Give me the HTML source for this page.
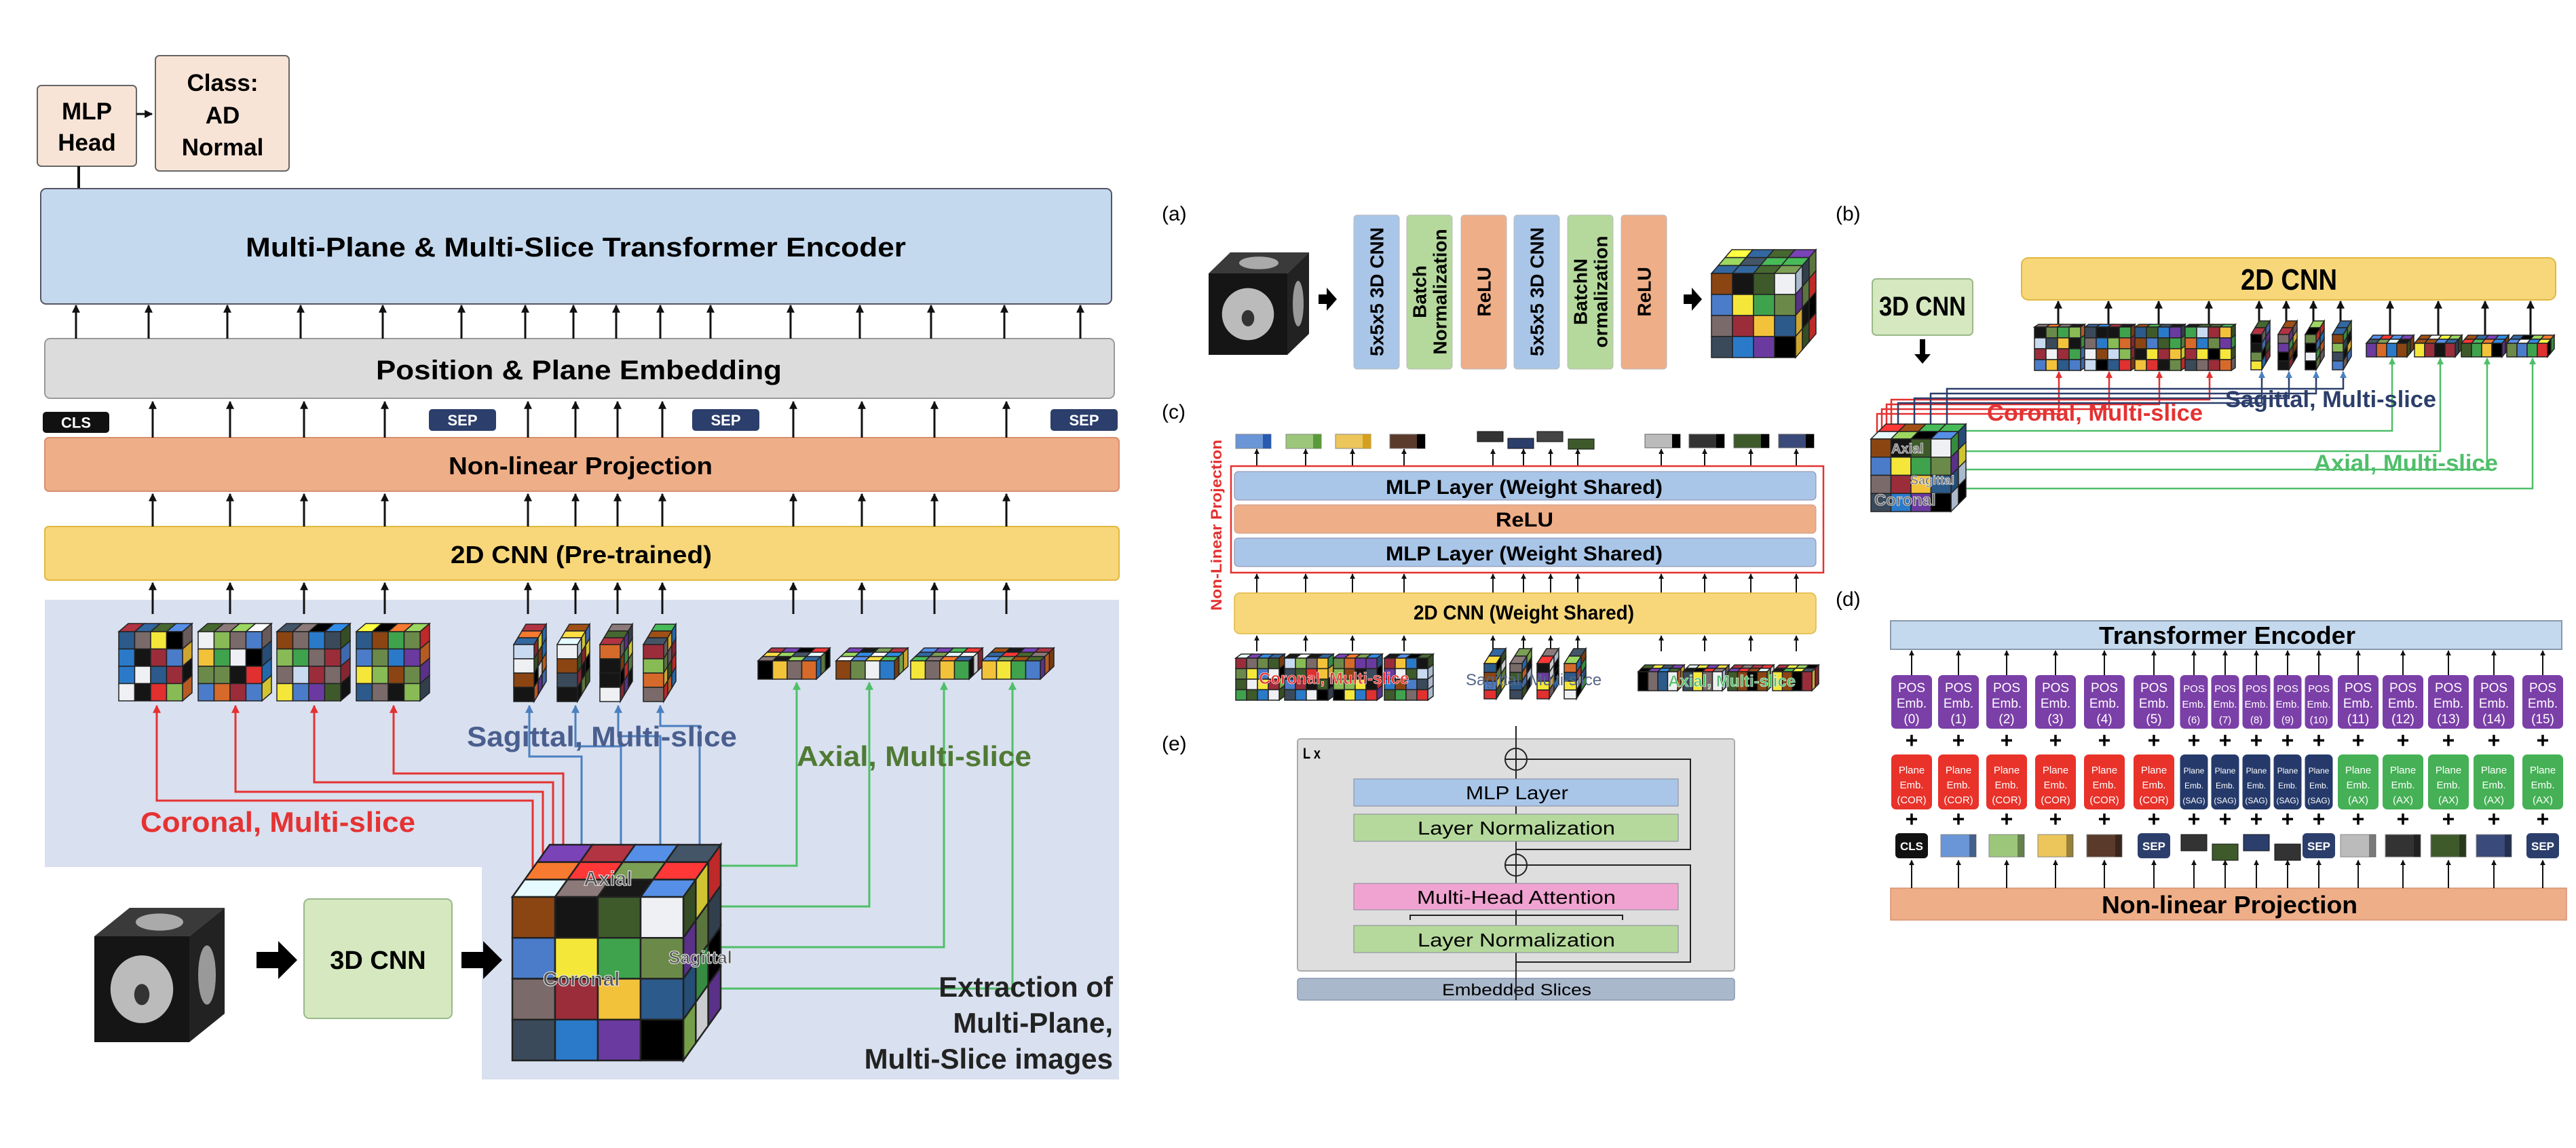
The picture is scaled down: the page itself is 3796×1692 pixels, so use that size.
<!DOCTYPE html>
<html><head><meta charset="utf-8"><style>
html,body{margin:0;padding:0;background:#fff;}
svg{display:block;}
text{font-family:"Liberation Sans",sans-serif;font-weight:bold;}
</style></head><body>
<svg id="s" xmlns="http://www.w3.org/2000/svg" width="3796" height="1692" viewBox="0 0 3796 1692">
<defs>
<marker id="ah" viewBox="0 0 10 10" refX="9" refY="5" markerWidth="4" markerHeight="4" orient="auto"><path d="M0,0L10,5L0,10z" fill="#111"/></marker>
<marker id="ar" viewBox="0 0 10 10" refX="9" refY="5" markerWidth="4" markerHeight="4" orient="auto"><path d="M0,0L10,5L0,10z" fill="#e53030"/></marker>
<marker id="ab" viewBox="0 0 10 10" refX="9" refY="5" markerWidth="4" markerHeight="4" orient="auto"><path d="M0,0L10,5L0,10z" fill="#4a80c0"/></marker>
<marker id="ag" viewBox="0 0 10 10" refX="9" refY="5" markerWidth="4" markerHeight="4" orient="auto"><path d="M0,0L10,5L0,10z" fill="#4fbf6a"/></marker>
</defs>

<!-- ============ LEFT PANEL ============ -->
<rect x="66" y="884" width="1583" height="394" fill="#d9e0ef"/>
<rect x="710" y="1270" width="939" height="321" fill="#d9e0ef"/>

<rect x="55" y="126" width="146" height="119" rx="6" fill="#f8e4d6" stroke="#666" stroke-width="2"/>
<text x="128" y="176" font-size="35" text-anchor="middle">MLP</text>
<text x="128" y="222" font-size="35" text-anchor="middle">Head</text>
<line x1="201" y1="168" x2="224" y2="168" stroke="#111" stroke-width="3" marker-end="url(#ah)"/>
<rect x="229" y="82" width="197" height="170" rx="6" fill="#f8e4d6" stroke="#666" stroke-width="2"/>
<text x="328" y="134" font-size="35" text-anchor="middle">Class:</text>
<text x="328" y="182" font-size="35" text-anchor="middle">AD</text>
<text x="328" y="229" font-size="35" text-anchor="middle">Normal</text>
<line x1="116" y1="245" x2="116" y2="278" stroke="#111" stroke-width="4"/>

<rect x="60" y="278" width="1578" height="170" rx="8" fill="#c5d9ee" stroke="#556" stroke-width="2"/>
<text x="362" y="378" font-size="40" textLength="973" lengthAdjust="spacingAndGlyphs">Multi-Plane &amp; Multi-Slice Transformer Encoder</text>
<rect x="66" y="499" width="1576" height="88" rx="8" fill="#dcdcdc" stroke="#999" stroke-width="2"/>
<text x="554" y="559" font-size="40" textLength="598" lengthAdjust="spacingAndGlyphs">Position &amp; Plane Embedding</text>
<rect x="66" y="645" width="1583" height="79" rx="6" fill="#eeae88" stroke="#d89070" stroke-width="2"/>
<text x="661" y="699" font-size="36" textLength="389" lengthAdjust="spacingAndGlyphs">Non-linear Projection</text>
<rect x="66" y="776" width="1583" height="79" rx="6" fill="#f7d77a" stroke="#e0b840" stroke-width="2"/>
<text x="664" y="830" font-size="36" textLength="385" lengthAdjust="spacingAndGlyphs">2D CNN (Pre-trained)</text>

<g id="lefttok"></g>
<text x="207" y="1226" font-size="42" fill="#e53232" textLength="405" lengthAdjust="spacingAndGlyphs">Coronal, Multi-slice</text>

<g id="leftlines"></g>
<text x="688" y="1100" font-size="42" fill="#4a5f8f" textLength="398" lengthAdjust="spacingAndGlyphs">Sagittal, Multi-slice</text>
<text x="1174" y="1129" font-size="42" fill="#4f7a34" textLength="346" lengthAdjust="spacingAndGlyphs">Axial, Multi-slice</text>

<g id="bigcube"></g>
<text x="1640" y="1469" font-size="42" text-anchor="end" fill="#222">Extraction of</text>
<text x="1640" y="1522" font-size="42" text-anchor="end" fill="#222">Multi-Plane,</text>
<text x="1640" y="1575" font-size="42" text-anchor="end" fill="#222">Multi-Slice images</text>

<g id="brain1"></g>
<path d="M378,1403 h32 v-16 l28,28 l-28,28 v-16 h-32z" fill="#000"/>
<rect x="448" y="1325" width="218" height="176" rx="8" fill="#d5e8c0" stroke="#9ab888" stroke-width="2"/>
<text x="557" y="1428" font-size="38" text-anchor="middle">3D CNN</text>
<path d="M680,1403 h32 v-16 l28,28 l-28,28 v-16 h-32z" fill="#000"/>

<!-- ============ (a) ============ -->
<text x="1712" y="325" font-size="30" font-weight="normal" style="font-weight:normal">(a)</text>
<g id="brain2"></g>
<path d="M1943,434 h12 v-10 l15,17 l-15,17 v-10 h-12z" fill="#000"/>
<g id="abars"></g>
<path d="M2481,434 h12 v-10 l15,17 l-15,17 v-10 h-12z" fill="#000"/>
<g id="acube"></g>

<!-- ============ (b) ============ -->
<text x="2705" y="325" font-size="30" style="font-weight:normal">(b)</text>
<rect x="2759" y="411" width="148" height="83" rx="6" fill="#d5e8c0" stroke="#9ab888" stroke-width="2"/>
<text x="2833" y="465" font-size="40" text-anchor="middle" textLength="128" lengthAdjust="spacingAndGlyphs">3D CNN</text>
<rect x="2979" y="380" width="787" height="62" rx="10" fill="#f7d77a" stroke="#e0b840" stroke-width="2"/>
<text x="3302" y="427" font-size="44" textLength="142" lengthAdjust="spacingAndGlyphs">2D CNN</text>
<path d="M2829,522 v-22 h8 v22 h8 l-12,14 l-12,-14z" fill="#000"/>
<g id="bgrp"></g>
<text x="2928" y="620" font-size="34" fill="#e53232" textLength="318" lengthAdjust="spacingAndGlyphs">Coronal, Multi-slice</text>
<text x="3279" y="600" font-size="34" fill="#2c3e6b" textLength="311" lengthAdjust="spacingAndGlyphs">Sagittal, Multi-slice</text>
<text x="3410" y="694" font-size="34" fill="#4fbf6a" textLength="271" lengthAdjust="spacingAndGlyphs">Axial, Multi-slice</text>

<!-- ============ (c) ============ -->
<text x="1712" y="617" font-size="30" style="font-weight:normal">(c)</text>
<g id="cgrp"></g>
<rect x="1814" y="687" width="873" height="157" fill="none" stroke="#e53030" stroke-width="2.5"/>
<rect x="1819" y="695" width="857" height="42" rx="6" fill="#a9c6e8" stroke="#88a" stroke-width="1"/>
<text x="2042" y="728" font-size="30" textLength="408" lengthAdjust="spacingAndGlyphs">MLP Layer (Weight Shared)</text>
<rect x="1819" y="744" width="857" height="42" rx="6" fill="#eeae88" stroke="#c98" stroke-width="1"/>
<text x="2204" y="776" font-size="30" textLength="85" lengthAdjust="spacingAndGlyphs">ReLU</text>
<rect x="1819" y="793" width="857" height="42" rx="6" fill="#a9c6e8" stroke="#88a" stroke-width="1"/>
<text x="2042" y="826" font-size="30" textLength="408" lengthAdjust="spacingAndGlyphs">MLP Layer (Weight Shared)</text>
<text transform="translate(1800,900) rotate(-90)" font-size="22" fill="#e53030" textLength="252" lengthAdjust="spacingAndGlyphs">Non-Linear Projection</text>
<rect x="1819" y="874" width="857" height="60" rx="8" fill="#f7d77a" stroke="#e0b840" stroke-width="1.5"/>
<text x="2083" y="913" font-size="30" textLength="325" lengthAdjust="spacingAndGlyphs">2D CNN (Weight Shared)</text>

<!-- ============ (e) ============ -->
<text x="1712" y="1106" font-size="30" style="font-weight:normal">(e)</text>
<rect x="1912" y="1089" width="644" height="342" rx="4" fill="#dedede" stroke="#aaa" stroke-width="2"/>
<text x="1920" y="1118" font-size="22" textLength="26" lengthAdjust="spacingAndGlyphs">L x</text>
<rect x="1912" y="1442" width="644" height="32" rx="4" fill="#aab8cc" stroke="#8898b0" stroke-width="1.5"/>
<text x="2125" y="1467" font-size="24" textLength="220" lengthAdjust="spacingAndGlyphs" style="font-weight:normal">Embedded Slices</text>
<g stroke="#222" stroke-width="2" fill="none">
<line x1="2234" y1="1474" x2="2234" y2="1404"/>
<line x1="2234" y1="1364" x2="2234" y2="1341"/>
<line x1="2234" y1="1302" x2="2234" y2="1291"/>
<line x1="2234" y1="1259" x2="2234" y2="1240"/>
<line x1="2234" y1="1200" x2="2234" y2="1188"/>
<line x1="2234" y1="1148" x2="2234" y2="1135"/>
<line x1="2234" y1="1103" x2="2234" y2="1070"/>
<circle cx="2234" cy="1119" r="16"/><line x1="2218" y1="1119" x2="2250" y2="1119"/><line x1="2234" y1="1103" x2="2234" y2="1135"/>
<circle cx="2234" cy="1275" r="16"/><line x1="2218" y1="1275" x2="2250" y2="1275"/><line x1="2234" y1="1259" x2="2234" y2="1291"/>
<polyline points="2234,1252 2491,1252 2491,1119 2250,1119"/>
<polyline points="2234,1418 2491,1418 2491,1275 2250,1275"/>
<polyline points="2078,1356 2078,1349 2391,1349 2391,1356"/>
</g>
<rect x="1995" y="1148" width="478" height="40" fill="#a9c6e8" stroke="#889" stroke-width="1"/>
<text x="2160" y="1178" font-size="28" textLength="151" lengthAdjust="spacingAndGlyphs" style="font-weight:normal">MLP Layer</text>
<rect x="1995" y="1200" width="478" height="40" fill="#b5d99c" stroke="#889" stroke-width="1"/>
<text x="2089" y="1230" font-size="28" textLength="291" lengthAdjust="spacingAndGlyphs" style="font-weight:normal">Layer Normalization</text>
<rect x="1995" y="1302" width="478" height="39" fill="#f0a3d0" stroke="#889" stroke-width="1"/>
<text x="2088" y="1332" font-size="28" textLength="293" lengthAdjust="spacingAndGlyphs" style="font-weight:normal">Multi-Head Attention</text>
<rect x="1995" y="1364" width="478" height="40" fill="#b5d99c" stroke="#889" stroke-width="1"/>
<text x="2089" y="1395" font-size="28" textLength="291" lengthAdjust="spacingAndGlyphs" style="font-weight:normal">Layer Normalization</text>

<!-- ============ (d) ============ -->
<text x="2705" y="893" font-size="30" style="font-weight:normal">(d)</text>
<rect x="2786" y="915" width="989" height="42" fill="#c5d9ee" stroke="#8899aa" stroke-width="2"/>
<text x="3093" y="949" font-size="36" textLength="378" lengthAdjust="spacingAndGlyphs">Transformer Encoder</text>
<rect x="2786" y="1309" width="996" height="47" fill="#eeae88" stroke="#d89070" stroke-width="1.5"/>
<text x="3097" y="1346" font-size="36" textLength="377" lengthAdjust="spacingAndGlyphs">Non-linear Projection</text>
<g id="dgrp"></g>
</svg>
<script>
var NS="http://www.w3.org/2000/svg";
function el(p,t,a,txt){var e=document.createElementNS(NS,t);for(var k in a)e.setAttribute(k,a[k]);if(txt!==undefined)e.textContent=txt;p.appendChild(e);return e;}
var P=['#8b4513','#151515','#3e5a2a','#eef0f4','#4a7cc9','#f5e73a','#3fa34d','#6b8a4a','#7a6a6a','#9b2d3a','#f2c23a','#2c5a8a','#3a4a5a','#2a7ac9','#6a3aa0','#000000','#c8daf0','#d66a2a','#e03030','#88bb55'];
var seed=7;function rnd(){seed=(seed*9301+49297)%233280;return seed/233280;}
function rc(){return P[Math.floor(rnd()*P.length)];}
function shade(c,f){var n=parseInt(c.slice(1),16);var r=(n>>16)&255,g=(n>>8)&255,b=n&255;r=Math.min(255,Math.round(r*f));g=Math.min(255,Math.round(g*f));b=Math.min(255,Math.round(b*f));return'rgb('+r+','+g+','+b+')';}
// cube: front face top-left x,y size w,h; depth dx,dy; cols,rows; depth cells dc
function cube(g,x,y,w,h,dx,dy,cols,rows,dc,colors,sw){
 sw=sw||1.5;var cw=w/cols,ch=h/rows,i,j,k=0;
 // top face
 for(j=dc-1;j>=0;j--)for(i=0;i<cols;i++){
  var ox=dx*j/dc,oy=dy*j/dc,ox2=dx*(j+1)/dc,oy2=dy*(j+1)/dc;
  el(g,'polygon',{points:[x+i*cw+ox,y-oy, x+(i+1)*cw+ox,y-oy, x+(i+1)*cw+ox2,y-oy2, x+i*cw+ox2,y-oy2].join(','),fill:shade(rc(),1.15),stroke:'#222','stroke-width':sw});}
 // right face
 for(j=0;j<dc;j++)for(i=0;i<rows;i++){
  var ox=dx*j/dc,oy=dy*j/dc,ox2=dx*(j+1)/dc,oy2=dy*(j+1)/dc;
  el(g,'polygon',{points:[x+w+ox,y+i*ch-oy, x+w+ox2,y+i*ch-oy2, x+w+ox2,y+(i+1)*ch-oy2, x+w+ox,y+(i+1)*ch-oy].join(','),fill:shade(rc(),0.85),stroke:'#222','stroke-width':sw});}
 for(j=0;j<rows;j++)for(i=0;i<cols;i++){
  el(g,'rect',{x:x+i*cw,y:y+j*ch,width:cw,height:ch,fill:colors?colors[k++]:rc(),stroke:'#222','stroke-width':sw});}
}
function arrow(g,x,y1,y2,col,mk,w){el(g,'line',{x1:x,y1:y1,x2:x,y2:y2,stroke:col||'#111','stroke-width':w||3,'marker-end':'url(#'+(mk||'ah')+')'});}
function pl(g,pts,col,w){el(g,'polyline',{points:pts.join(' '),fill:'none',stroke:col,'stroke-width':w||3});}

// LEFT arrows
var L=document.getElementById('lefttok');
[112,219,335,443,564,680,774,845,908,973,1047,1165,1267,1372,1480,1592].forEach(function(x){arrow(L,x,499,450);});
[225,339,448,567,778,848,910,976,1169,1270,1377,1483].forEach(function(x){arrow(L,x,645,592);arrow(L,x,776,728);arrow(L,x,905,859);});
function tok(g,x,y,w,h,fill,t,fs){el(g,'rect',{x:x,y:y,width:w,height:h,rx:5,fill:fill});el(g,'text',{x:x+w/2,y:y+h/2+fs*0.36,'font-size':fs,'text-anchor':'middle',fill:'#fff'},t);}
tok(L,63,607,98,31,'#111','CLS',22);
tok(L,632,603,99,32,'#2c3e6b','SEP',22);tok(L,1020,603,99,32,'#2c3e6b','SEP',22);tok(L,1548,603,99,32,'#2c3e6b','SEP',22);
// coronal cubes
[175,292,408,525].forEach(function(x){cube(L,x,931,94,102,14,12,4,4,1);});
// sagittal slabs
[757,821,884,948].forEach(function(x){cube(L,x,950,30,84,18,30,1,4,3);});
// axial slabs
[1117,1232,1342,1447].forEach(function(x){cube(L,x,974,86,27,20,19,4,1,3);});

var LL=document.getElementById('leftlines');
// red
[[231,1180,785],[347,1167,800],[463,1153,815],[580,1140,830]].forEach(function(a){pl(LL,[a[0]+','+1045,a[0]+','+a[1],a[2]+','+a[1],a[2]+','+1290],'#e53232',3);arrow(LL,a[0],1060,1040,'#e53232','ar',3);});
// blue
[[780,1115,857],[848,1100,915],[911,1085,973],[973,1070,1031]].forEach(function(a){pl(LL,[a[0]+','+1045,a[0]+','+a[1],a[2]+','+a[1],a[2]+','+1250],'#4a80c0',3);arrow(LL,a[0],1060,1040,'#4a80c0','ab',3);});
// green
[[1276,1174],[1336,1281],[1396,1391],[1457,1492]].forEach(function(a){pl(LL,['1040,'+a[0],a[1]+','+a[0],a[1]+',1020'],'#4fbf6a',3);arrow(LL,a[1],1025,1006,'#4fbf6a','ag',3);});

// big cube
var B=document.getElementById('bigcube');
cube(B,755,1322,252,241,55,77,4,4,3,['#8b4513','#151515','#3e5a2a','#eef0f4','#4a7cc9','#f5e73a','#3fa34d','#6b8a4a','#7a6a6a','#9b2d3a','#f2c23a','#2c5a8a','#3a4a5a','#2a7ac9','#6a3aa0','#000000'],2.5);
el(B,'text',{x:860,y:1305,'font-size':30,fill:'#555',stroke:'#eee','stroke-width':1},'Axial');
el(B,'text',{x:800,y:1453,'font-size':30,fill:'#555',stroke:'#eee','stroke-width':1},'Coronal');
el(B,'text',{x:985,y:1420,'font-size':26,fill:'#555',stroke:'#eee','stroke-width':1},'Sagittal');

// brain cubes
function brain(g,x,y,w,h,dx,dy){
 el(g,'polygon',{points:[x,y,x+dx,y-dy,x+w+dx,y-dy,x+w,y].join(','),fill:'#3a3a3a'});
 el(g,'polygon',{points:[x+w,y,x+w+dx,y-dy,x+w+dx,y+h-dy,x+w,y+h].join(','),fill:'#222'});
 el(g,'rect',{x:x,y:y,width:w,height:h,fill:'#151515'});
 el(g,'ellipse',{cx:x+w/2,cy:y+h*0.5,rx:w*0.33,ry:h*0.32,fill:'#bbb'});
 el(g,'ellipse',{cx:x+w/2,cy:y+h*0.55,rx:w*0.08,ry:h*0.1,fill:'#333'});
 el(g,'ellipse',{cx:x+w/2+dx/2,cy:y-dy/2,rx:w*0.25,ry:dy*0.3,fill:'#aaa'});
 el(g,'ellipse',{cx:x+w+dx/2,cy:y+h/2-dy/2,rx:dx*0.25,ry:h*0.28,fill:'#999'});
}
brain(document.getElementById('brain1'),139,1380,140,156,52,42);
brain(document.getElementById('brain2'),1781,403,116,120,32,31);

// (a) bars
var A=document.getElementById('abars');
[[1995,'#a9c6e8',['5x5x5 3D CNN']],[2073,'#b5d99c',['Batch','Normalization']],[2153,'#eeae88',['ReLU']],[2231,'#a9c6e8',['5x5x5 3D CNN']],[2310,'#b5d99c',['BatchN','ormalization']],[2389,'#eeae88',['ReLU']]].forEach(function(b){
 el(A,'rect',{x:b[0],y:317,width:67,height:227,rx:5,fill:b[1],stroke:'#bbb','stroke-width':1});
 var cx=b[0]+33.5,cy=430;
 b[2].forEach(function(t,i){var n=b[2].length;var off=(i-(n-1)/2)*30;
  el(A,'text',{transform:'translate('+(cx+off+10)+','+cy+') rotate(-90)','font-size':28,'text-anchor':'middle'},t);});
});
cube(document.getElementById('acube'),2522,403,124,124,30,35,4,4,3,['#8b4513','#151515','#3e5a2a','#eef0f4','#4a7cc9','#f5e73a','#3fa34d','#6b8a4a','#7a6a6a','#9b2d3a','#f2c23a','#2c5a8a','#3a4a5a','#2a7ac9','#6a3aa0','#000000']);

// (b)
var G=document.getElementById('bgrp');
var bc=[2998,3072,3146,3220],bs=[3317,3357,3397,3437],ba=[3487,3558,3627,3694];
bc.forEach(function(x){arrow(G,x+35,480,444);cube(G,x,482,68,64,6,4,4,4,1);});
bs.forEach(function(x){arrow(G,x+12,488,444);cube(G,x,493,16,52,12,20,1,4,2);});
ba.forEach(function(x){arrow(G,x+35,500,444);cube(G,x,506,60,20,10,12,4,1,2);});
// red lines
bc.forEach(function(x,i){var y=610-i*7,lx=2766+i*7;pl(G,[(x+36)+','+552,(x+36)+','+y,lx+','+y,lx+','+640],'#e53030',2.5);arrow(G,x+36,560,548,'#e53030','ar',2.5);});
bs.forEach(function(x,i){var y=594-i*7,lx=2797+i*24;pl(G,[(x+16)+','+550,(x+16)+','+y,lx+','+y,lx+','+640],'#2c3e6b',2.5);arrow(G,x+16,560,548,'#2c3e6b','ab',2.5);});
var gy=[635,665,692,720];
ba.forEach(function(x,i){pl(G,['2893,'+gy[i],(x+38)+','+gy[i],(x+38)+',532'],'#4fbf6a',2.5);arrow(G,x+38,540,528,'#4fbf6a','ag',2.5);});
cube(G,2757,647,118,107,22,22,4,4,2,['#8b4513','#151515','#3e5a2a','#eef0f4','#4a7cc9','#f5e73a','#3fa34d','#6b8a4a','#7a6a6a','#9b2d3a','#f2c23a','#2c5a8a','#3a4a5a','#2a7ac9','#6a3aa0','#000000']);
el(G,'text',{x:2787,y:668,'font-size':20,fill:'#666',stroke:'#eee','stroke-width':0.8},'Axial');
el(G,'text',{x:2815,y:714,'font-size':18,fill:'#666',stroke:'#eee','stroke-width':0.8},'Sagittal');
el(G,'text',{x:2762,y:745,'font-size':24,fill:'#666',stroke:'#eee','stroke-width':0.8},'Coronal');

// (c)
var C=document.getElementById('cgrp');
var cx=[1821,1895,1968,2048];
var cols=[['#6a95d6','#2a5ab0'],['#9cc77a','#5a9a3a'],['#ecc65a','#d4a020'],['#5a3a2a','#000']];
cx.forEach(function(x,i){el(C,'rect',{x:x,y:640,width:52,height:21,fill:cols[i][0],stroke:'#888','stroke-width':1});el(C,'rect',{x:x+40,y:640,width:12,height:21,fill:cols[i][1]});});
[[2177,636],[2222,646],[2265,636],[2311,647]].forEach(function(p,i){el(C,'rect',{x:p[0],y:p[1],width:38,height:15,fill:['#333','#2c3e6b','#444','#3e5a2a'][i],stroke:'#111','stroke-width':1});});
[[2424,'#bbb'],[2489,'#333'],[2555,'#3e5a2a'],[2621,'#3a4a7a']].forEach(function(p){el(C,'rect',{x:p[0],y:640,width:52,height:20,fill:p[1],stroke:'#666','stroke-width':1});el(C,'rect',{x:p[0]+40,y:640,width:12,height:20,fill:'#000'});});
var ca=[1852,1924,1993,2069,2200,2245,2285,2325,2448,2512,2580,2647];
ca.forEach(function(x){arrow(C,x,687,662,'#111','ah',2);arrow(C,x,874,846,'#111','ah',2);arrow(C,x,960,937,'#111','ah',2);});
[1821,1893,1965,2040].forEach(function(x){cube(C,x,970,64,62,8,6,4,4,1);});
[2187,2225,2265,2305].forEach(function(x){cube(C,x,978,18,52,14,22,1,4,2);});
[2414,2480,2546,2612].forEach(function(x){cube(C,x,990,58,28,10,10,4,1,2);});
el(C,'text',{x:1855,y:1008,'font-size':24,fill:'#e53030',stroke:'#fff','stroke-width':0.6},'Coronal, Multi-slice');
el(C,'text',{x:2160,y:1010,'font-size':24,fill:'#556688',style:'font-weight:normal'},'Sagittal, Multi-slice');
el(C,'text',{x:2458,y:1012,'font-size':24,fill:'#4fbf6a',stroke:'#fff','stroke-width':0.6},'Axial, Multi-slice');

// (d)
var D=document.getElementById('dgrp');
var dxs=[2817,2886,2957,3029,3101,3174,3233,3279,3325,3371,3417,3475,3541,3608,3675,3747];
dxs.forEach(function(x,i){
 var nar=(i>=6&&i<=10),w=nar?41:60,fs=nar?15:19;
 arrow(D,x,995,959,'#111','ah',2);
 el(D,'rect',{x:x-w/2,y:995,width:w,height:79,rx:7,fill:'#7b3fa8'});
 ['POS','Emb.','('+i+')'].forEach(function(t,k){el(D,'text',{x:x,y:1020+k*23,'font-size':fs,'text-anchor':'middle',fill:'#fff',style:'font-weight:normal'},t);});
 el(D,'text',{x:x,y:1102,'font-size':32,'text-anchor':'middle'},'+');
 var pc=i<6?'#e8322a':(nar?'#253a6a':'#45b055'),pl2=i<6?'(COR)':(nar?'(SAG)':'(AX)');
 el(D,'rect',{x:x-w/2,y:1112,width:w,height:81,rx:7,fill:pc});
 ['Plane','Emb.',pl2].forEach(function(t,k){el(D,'text',{x:x,y:1140+k*22,'font-size':nar?12:15,'text-anchor':'middle',fill:'#fff',style:'font-weight:normal'},t);});
 el(D,'text',{x:x,y:1218,'font-size':32,'text-anchor':'middle'},'+');
 arrow(D,x,1309,1268,'#111','ah',2);
});
var tk=[['CLS','#111'],[0,'#6a95d6'],[0,'#9cc77a'],[0,'#ecc65a'],[0,'#5a3a2a'],['SEP','#2c3e6b'],[1,'#333'],[2,'#3e5a2a'],[1,'#2c3e6b'],[2,'#333'],['SEP','#2c3e6b'],[0,'#bbb'],[0,'#333'],[0,'#3e5a2a'],[0,'#3a4a7a'],['SEP','#2c3e6b']];
tk.forEach(function(t,i){var x=dxs[i];
 if(typeof t[0]=='string'){el(D,'rect',{x:x-24,y:1228,width:48,height:37,rx:6,fill:t[1]});el(D,'text',{x:x,y:1253,'font-size':17,'text-anchor':'middle',fill:'#fff'},t[0]);}
 else if(t[0]==0){el(D,'rect',{x:x-26,y:1230,width:52,height:33,fill:t[1],stroke:'#888','stroke-width':1});el(D,'rect',{x:x+16,y:1230,width:10,height:33,fill:'#000',opacity:0.35});}
 else {var yy=t[0]==1?1230:1244;el(D,'rect',{x:x-19,y:yy,width:38,height:24,fill:t[1],stroke:'#111','stroke-width':1});}
});
</script>
</body></html>
